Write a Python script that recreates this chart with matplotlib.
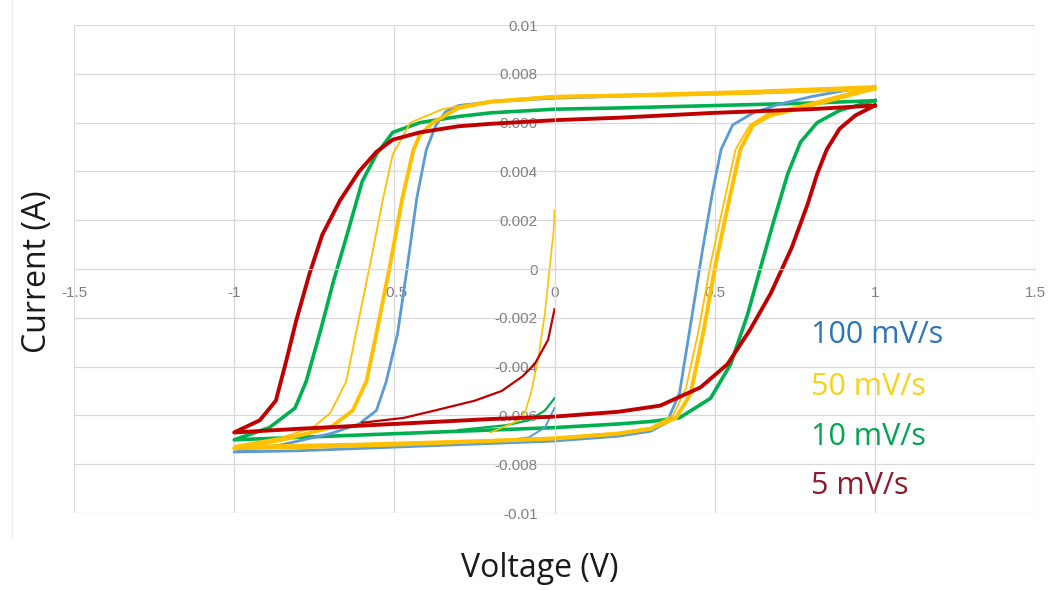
import numpy as np
import matplotlib.pyplot as plt
from matplotlib.lines import Line2D

# values: voltage in V, current in mA (converted to A below)
# each loop starts at +1 V on the upper branch, runs to -1 V and back along the lower branch
blue_v = [1.0, 0.8, 0.6, 0.4, 0.2, 0.0, -0.2, -0.3, -0.34, -0.37, -0.40, -0.43, -0.46, -0.49, -0.525, -0.556, -0.61, -0.7, -0.85, -1.0,
          -0.8, -0.5, -0.2, 0.0, 0.2, 0.3, 0.35, 0.39, 0.43, 0.463, 0.494, 0.52, 0.556, 0.62, 0.7, 0.8, 0.9, 1.0]
blue_i = [7.45, 7.3, 7.2, 7.15, 7.08, 7.0, 6.85, 6.7, 6.45, 5.9, 4.9, 2.9, 0.05, -2.65, -4.6, -5.8, -6.35, -6.75, -7.2, -7.5,
          -7.45, -7.3, -7.15, -7.05, -6.85, -6.65, -6.3, -5.1, -1.85, 0.86, 3.2, 4.9, 5.9, 6.4, 6.75, 7.06, 7.3, 7.45]

yel_v = [1.0, 0.8, 0.6, 0.4, 0.2, 0.0, -0.2, -0.3, -0.38, -0.42, -0.44, -0.475, -0.515, -0.556, -0.587, -0.63, -0.70, -0.85, -1.0,
         -0.8, -0.5, -0.2, 0.0, 0.2, 0.3, 0.38, 0.425, 0.466, 0.503, 0.54, 0.58, 0.62, 0.675, 0.8, 0.9, 1.0]
yel_i = [7.4, 7.3, 7.22, 7.15, 7.1, 7.05, 6.85, 6.6, 6.0, 5.5, 4.9, 2.9, 0.05, -2.65, -4.6, -5.8, -6.5, -7.0, -7.35,
         -7.3, -7.2, -7.05, -6.95, -6.75, -6.55, -6.1, -5.1, -2.5, 0.2, 2.5, 4.9, 5.9, 6.3, 6.7, 7.05, 7.4]

yel2_v = [1.0, 0.6, 0.2, 0.0, -0.2, -0.35, -0.45, -0.505, -0.535, -0.578, -0.62, -0.65, -0.70, -0.755, -0.85, -1.0,
          -0.6, -0.2, 0.0, 0.2, 0.3, 0.37, 0.41, 0.45, 0.487, 0.525, 0.565, 0.61, 0.67, 0.8, 1.0]
yel2_i = [7.5, 7.3, 7.15, 7.1, 6.9, 6.55, 6.0, 4.7, 2.9, 0.05, -2.65, -4.6, -5.9, -6.5, -6.9, -7.25,
          -7.15, -7.0, -6.9, -6.7, -6.5, -6.0, -4.9, -2.5, 0.2, 2.5, 4.9, 5.9, 6.4, 6.8, 7.5]

grn_v = [1.0, 0.8, 0.5, 0.2, 0.0, -0.2, -0.3, -0.42, -0.505, -0.556, -0.6, -0.65, -0.69, -0.73, -0.775, -0.81, -0.89, -1.0,
         -0.8, -0.5, -0.2, 0.0, 0.2, 0.3, 0.39, 0.487, 0.55, 0.603, 0.643, 0.684, 0.728, 0.768, 0.82, 0.89, 1.0]
grn_i = [6.9, 6.8, 6.7, 6.6, 6.55, 6.4, 6.25, 6.0, 5.6, 4.7, 3.6, 1.3, -0.5, -2.5, -4.6, -5.7, -6.5, -7.0,
         -6.9, -6.75, -6.6, -6.5, -6.35, -6.25, -6.1, -5.3, -3.9, -1.85, 0.05, 1.95, 3.9, 5.2, 6.0, 6.5, 6.9]

red_v = [1.0, 0.8, 0.5, 0.2, 0.0, -0.2, -0.3, -0.42, -0.505, -0.556, -0.61, -0.67, -0.725, -0.765, -0.806, -0.84, -0.87, -0.92, -1.0,
         -0.8, -0.5, -0.2, 0.0, 0.2, 0.33, 0.456, 0.54, 0.61, 0.675, 0.74, 0.79, 0.82, 0.85, 0.89, 0.94, 1.0]
red_i = [6.7, 6.55, 6.4, 6.2, 6.1, 5.95, 5.85, 5.6, 5.3, 4.8, 4.0, 2.8, 1.4, -0.2, -2.1, -3.9, -5.4, -6.2, -6.7,
         -6.55, -6.35, -6.15, -6.05, -5.85, -5.6, -4.85, -3.9, -2.5, -1.0, 0.86, 2.65, 3.9, 4.9, 5.75, 6.3, 6.7]

# first sweep starting from 0 V
blue0_v = [0.0, -0.03, -0.08, -0.2]
blue0_i = [-5.7, -6.5, -6.9, -7.1]
yel0_v = [0.0, -0.003, -0.01, -0.02, -0.03, -0.05, -0.072, -0.09, -0.11, -0.2]
yel0_i = [2.4, 1.5, 0.7, -0.6, -1.8, -3.6, -5.0, -5.8, -6.2, -6.7]
grn0_v = [0.0, -0.03, -0.08, -0.15, -0.3]
grn0_i = [-5.3, -5.8, -6.2, -6.4, -6.6]
red0_v = [0.0, -0.02, -0.062, -0.1, -0.165, -0.25, -0.374, -0.47, -0.6]
red0_i = [-1.65, -2.9, -3.9, -4.4, -5.0, -5.4, -5.8, -6.1, -6.3]

legend_labels = ['100 mV/s', '50 mV/s', '10 mV/s', '5 mV/s']
xticks = [-1.5, -1, -0.5, 0, 0.5, 1, 1.5]
xtick_labels = ['-1.5', '-1', '-0.5', '0', '0.5', '1', '1.5']
yticks = [-0.01, -0.008, -0.006, -0.004, -0.002, 0, 0.002, 0.004, 0.006, 0.008, 0.01]
ytick_labels = ['-0.01', '-0.008', '-0.006', '-0.004', '-0.002', '0', '0.002', '0.004', '0.006', '0.008', '0.01']

c_blue, c_yel, c_grn, c_red = '#5b9bd5', '#ffc000', '#00b050', '#c00000'
txt_cols = ['#2e75b6', '#f2d41c', '#00a550', '#8b1a2b']

fig = plt.figure(figsize=(10.51, 5.90), dpi=100)
ax = fig.add_axes([0.0704, 0.1305, 0.9144, 0.8271])

def mA(a):
    return np.array(a) / 1000.0

ax.plot(grn_v, mA(grn_i), color=c_grn, lw=2.6, solid_joinstyle='round')
ax.plot(grn0_v, mA(grn0_i), color=c_grn, lw=1.6)
ax.plot(blue_v, mA(blue_i), color=c_blue, lw=2.0, solid_joinstyle='round')
ax.plot(blue0_v, mA(blue0_i), color=c_blue, lw=1.4)
ax.plot(yel2_v, mA(yel2_i), color=c_yel, lw=1.3, solid_joinstyle='round')
ax.plot(yel_v, mA(yel_i), color=c_yel, lw=2.8, solid_joinstyle='round')
ax.plot(yel0_v, mA(yel0_i), color=c_yel, lw=1.2)
ax.plot(red_v, mA(red_i), color=c_red, lw=2.8, solid_joinstyle='round')
ax.plot(red0_v, mA(red0_i), color=c_red, lw=1.6)

ax.set_xlim(-1.5, 1.5)
ax.set_ylim(-0.01, 0.01)
ax.set_xticks(xticks)
ax.set_xticklabels(xtick_labels)
ax.set_yticks(yticks)
ax.set_yticklabels(ytick_labels)
ax.grid(True, color='#d9d9d9', lw=0.9)
ax.set_axisbelow(True)
for s in ['top', 'right']:
    ax.spines[s].set_visible(False)
ax.spines['left'].set_position(('data', 0))
ax.spines['bottom'].set_position(('data', 0))
ax.spines['left'].set_color('#d9d9d9')
ax.spines['bottom'].set_color('#d9d9d9')
ax.tick_params(length=0, colors='#808080', labelsize=11)
ax.tick_params(axis='y', pad=12)
ax.tick_params(axis='x', pad=12)
for lab in ax.get_xticklabels() + ax.get_yticklabels():
    lab.set_fontfamily('Liberation Sans')

fig.text(0.514, 0.037, 'Voltage (V)', fontsize=23, family='Open Sans', color='#1a1a1a',
         ha='center', va='center')
fig.text(0.036, 0.54, 'Current (A)', fontsize=23, family='Open Sans', color='#1a1a1a',
         ha='center', va='center', rotation=90)

leg_y = [0.432, 0.344, 0.259, 0.176]
for lab, col, yy in zip(legend_labels, txt_cols, leg_y):
    fig.text(0.772, yy, lab, fontsize=22, family='Open Sans', color=col, ha='left', va='center')

fig.add_artist(Line2D([0.0114, 0.0114], [0.09, 1.0], color='#ececec', lw=1.0))

fig.savefig('out.png', dpi=100)
